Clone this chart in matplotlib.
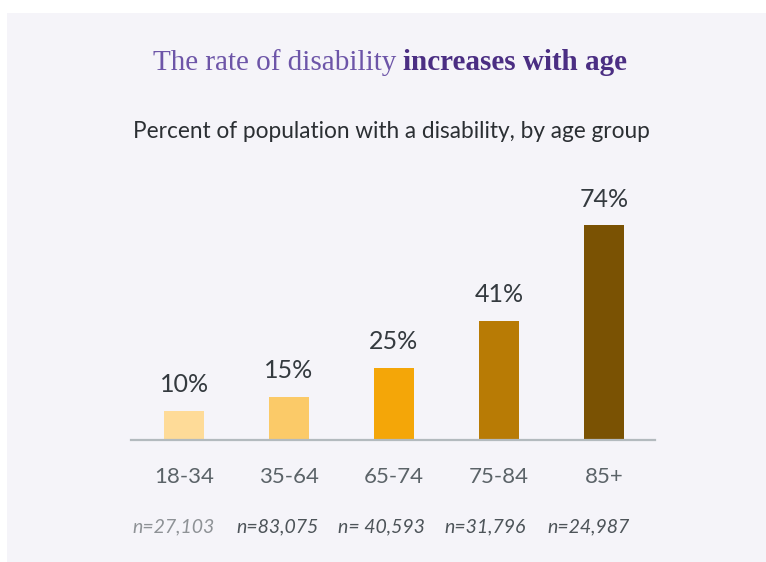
import matplotlib
matplotlib.use('Agg')
import matplotlib.pyplot as plt
from matplotlib.patches import Rectangle
from matplotlib.transforms import blended_transform_factory

groups = ['18-34', '35-64', '65-74', '75-84', '85+']
rates = [10, 15, 25, 41, 74]
counts = ['n=27,103', 'n=83,075', 'n= 40,593', 'n=31,796', 'n=24,987']
bar_colors = ['#fedb98', '#fbca68', '#f4a608', '#b87b05', '#7a5203']
count_colors = ['#8e9296', '#4d5459', '#4d5459', '#4d5459', '#4d5459']

W, H = 766, 562
fig = plt.figure(figsize=(W / 100, H / 100), dpi=100)
fig.patch.set_facecolor('white')

# light panel behind everything
fig.patches.append(Rectangle((7 / W, 0), 1 - 7 / W, (H - 13) / H,
                             transform=fig.transFigure, facecolor='#f5f4f9',
                             edgecolor='none', zorder=-5))

sans = ['Lato', 'DejaVu Sans']
serif = ['Liberation Serif', 'DejaVu Serif']

# axes: x 131..655 px, baseline at y=440 px
ax = fig.add_axes([131 / W, (H - 440) / H, (655 - 131) / W, 232 / H])
ax.set_facecolor('none')
x = list(range(len(groups)))
ax.bar(x, rates, width=0.39, color=bar_colors, zorder=2)
ax.set_xlim(-0.505, 4.486)
ax.set_ylim(0, 80)

for s in ['top', 'right', 'left']:
    ax.spines[s].set_visible(False)
ax.spines['bottom'].set_color('#b3babe')
ax.spines['bottom'].set_linewidth(1.6)
ax.set_yticks([])
ax.set_xticks(x)
ax.set_xticklabels(groups, fontsize=16, color='#5b6368', family=sans)
ax.tick_params(axis='x', length=0, pad=19.5)

for i, v in enumerate(rates):
    ax.annotate(f'{v}%', (i, v), xytext=(0, 19), textcoords='offset points',
                ha='center', va='center', fontsize=18, color='#343a3f',
                family=sans)

# sample sizes sit a little left of each bar, slightly tighter spacing
tr = blended_transform_factory(ax.transData, fig.transFigure)
for i, c in enumerate(counts):
    ax.text(i * 0.988 - 0.095, (H - 527) / H, c, transform=tr, ha='center',
            va='center', fontsize=14, style='italic', color=count_colors[i],
            family=sans)

fig.text(391 / W, (H - 131) / H, 'Percent of population with a disability, by age group',
         ha='center', va='center', fontsize=16.3, color='#2b2f33', family=sans)

# two-part title
t1 = fig.text(0, (H - 63) / H, 'The rate of disability ', ha='left', va='center',
              fontsize=21, color='#6d55a8', family=serif)
t2 = fig.text(0, (H - 63) / H, 'increases with age', ha='left', va='center',
              fontsize=21, fontweight='bold', color='#4b2e83', family=serif)
fig.canvas.draw()
r = fig.canvas.get_renderer()
w1 = t1.get_window_extent(r).width
w2 = t2.get_window_extent(r).width
left = 390 - (w1 + w2) / 2
t1.set_x(left / W)
t2.set_x((left + w1) / W)

fig.savefig('out.png', dpi=100)
